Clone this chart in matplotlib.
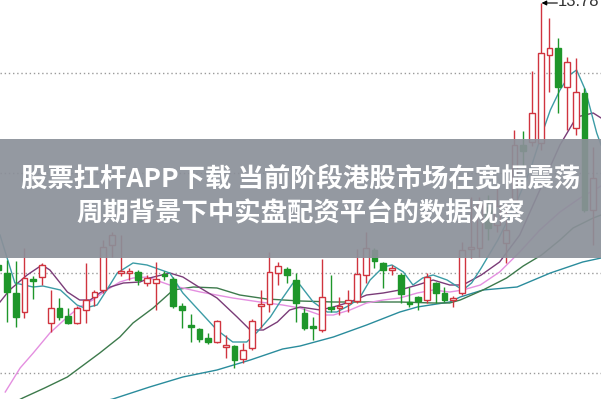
import matplotlib.pyplot as plt

# candle data (day index, open/high/low/close in price units)
days = list(range(-1, 68))
opens = [11.16, 11.08, 10.88, 10.69, 11.02, 11.04, 10.58, 10.73, 10.65, 10.58, 10.71,
         10.84, 10.91, 11.36, 11.08, 11.08, 11.09, 10.98, 10.98, 11.07, 11.02,
         10.75, 10.56, 10.52, 10.43, 10.39, 10.34, 10.35, 10.22, 10.33, 10.75,
         10.77, 11.08, 11.12, 11.01, 10.68, 10.55, 10.51, 10.74, 10.73, 10.78,
         10.80, 11.06, 11.31, 11.18, 11.11, 11.06, 10.79, 10.84, 10.81, 10.98,
         10.88, 10.81, 10.88, 11.32, 11.33, 11.74, 11.56, 11.38, 11.81, 12.36,
         12.39, 12.38, 13.26, 13.33, 12.94, 12.53, 12.88, 11.71]
highs = [11.19, 11.21, 11.20, 11.33, 11.05, 11.18, 10.91, 10.83, 10.73, 10.75, 11.18,
         10.91, 11.41, 11.49, 11.46, 11.13, 11.11, 11.06, 11.19, 11.10, 11.04,
         10.78, 10.67, 10.53, 10.48, 10.61, 10.46, 10.36, 10.38, 10.62, 10.91,
         11.29, 11.19, 11.14, 11.08, 10.73, 10.64, 11.22, 11.06, 10.84, 10.91,
         11.32, 11.49, 11.33, 11.19, 11.16, 11.08, 10.94, 10.85, 11.08, 10.99,
         10.94, 10.85, 11.39, 11.84, 11.84, 11.86, 11.93, 11.81, 12.51, 12.50,
         13.10, 13.78, 13.63, 13.43, 13.24, 13.23, 12.93, 12.34]
lows = [11.08, 10.59, 10.54, 10.63, 10.82, 10.96, 10.49, 10.61, 10.57, 10.57, 10.58,
        10.75, 10.88, 11.24, 11.05, 11.01, 10.96, 10.95, 10.71, 11.01, 10.73,
        10.53, 10.39, 10.39, 10.37, 10.38, 10.23, 10.13, 10.18, 10.31, 10.53,
        10.69, 10.96, 10.98, 10.59, 10.51, 10.41, 10.49, 10.69, 10.66, 10.69,
        10.78, 10.98, 11.13, 10.93, 11.06, 10.78, 10.74, 10.71, 10.78, 10.78,
        10.79, 10.74, 10.86, 11.23, 11.24, 11.41, 11.49, 11.18, 11.79, 12.14,
        12.35, 12.31, 12.89, 12.68, 12.51, 12.46, 11.69, 11.36]
closes = [11.11, 10.89, 10.64, 11.03, 11.00, 11.16, 10.73, 10.64, 10.58, 10.73, 10.81,
          10.89, 11.34, 11.46, 11.10, 11.10, 11.01, 11.03, 11.02, 11.05, 10.75,
          10.71, 10.54, 10.42, 10.39, 10.60, 10.36, 10.21, 10.31, 10.60, 10.77,
          11.09, 11.15, 11.06, 10.78, 10.53, 10.53, 10.84, 10.72, 10.75, 10.81,
          11.07, 11.33, 11.20, 11.11, 11.13, 10.87, 10.77, 10.80, 11.04, 10.88,
          10.81, 10.83, 11.31, 11.34, 11.78, 11.53, 11.75, 11.51, 12.36, 12.30,
          12.68, 13.28, 13.33, 12.94, 13.19, 12.89, 11.71, 12.03]

# moving averages (day position, value)
ma5_days = [-0.8, 0.9, 3.0, 4.1, 6.1, 8.0, 8.9, 10.3, 11.4, 12.6, 14.4, 16.0, 18.6, 20.1,
            22.1, 24.0, 25.8, 27.4, 28.6, 30.1, 31.5, 32.7, 33.5, 35.0, 36.6, 37.7, 39.2,
            40.3, 41.5, 43.0, 44.0, 45.3, 46.4, 47.5, 48.7, 50.3, 51.2, 52.1, 53.1, 54.2,
            56.1, 58.1, 59.8, 60.9, 62.1, 63.2, 64.3, 65.1, 66.1, 67.4, 67.9]
ma5_vals = [11.46, 10.98, 10.94, 10.95, 10.91, 10.76, 10.73, 10.76, 10.91, 11.08, 11.18,
            11.16, 11.08, 10.88, 10.69, 10.51, 10.39, 10.39, 10.49, 10.64, 10.83, 10.98,
            10.96, 10.79, 10.69, 10.69, 10.76, 10.83, 11.01, 11.14, 11.16, 11.09, 10.96,
            11.03, 11.06, 11.01, 10.96, 10.91, 10.98, 11.13, 11.41, 11.76, 12.11, 12.41,
            12.71, 12.91, 13.06, 13.11, 12.91, 12.48, 12.36]
ma10_days = [-0.8, 0.3, 2.3, 4.0, 4.9, 6.9, 8.3, 9.5, 10.6, 11.8, 13.3, 15.2, 16.3, 18.6,
             20.1, 22.1, 24.0, 26.3, 27.8, 29.3, 30.9, 32.3, 33.5, 35.8, 37.3, 39.2, 41.1,
             43.0, 44.9, 46.9, 48.7, 50.6, 52.1, 54.2, 56.3, 58.6, 60.9, 63.2, 65.1, 67.0, 67.9]
ma10_vals = [10.79, 10.91, 11.06, 11.16, 11.11, 10.89, 10.81, 10.81, 10.88, 10.94, 10.98,
             10.99, 11.03, 11.08, 11.04, 10.93, 10.83, 10.64, 10.51, 10.51, 10.59, 10.71,
             10.74, 10.71, 10.74, 10.79, 10.86, 10.88, 10.91, 10.96, 11.01, 10.96, 10.96,
             11.06, 11.19, 11.46, 11.91, 12.36, 12.64, 12.68, 12.63]
ma20_days = [-0.2, 1.5, 3.0, 4.9, 6.9, 8.3, 9.8, 11.4, 12.9, 14.4, 16.0, 18.6, 22.1, 25.8,
             28.9, 31.5, 33.5, 35.8, 37.3, 39.2, 41.1, 43.0, 44.9, 46.9, 48.7, 50.6, 52.1,
             54.1, 56.3, 58.6, 60.9, 63.2, 65.5, 67.9]
ma20_vals = [9.89, 10.13, 10.28, 10.48, 10.64, 10.74, 10.81, 10.91, 10.99, 11.03, 11.04,
             10.96, 10.89, 10.83, 10.79, 10.76, 10.73, 10.66, 10.66, 10.71, 10.78, 10.81,
             10.83, 10.88, 10.91, 10.89, 10.91, 10.96, 11.09, 11.29, 11.51, 11.69, 11.83, 11.95]
ma30_days = [0.9, 1.8, 4.3, 6.9, 10.6, 12.9, 14.4, 16.7, 19.0, 21.3, 24.0, 26.6, 29.7,
             33.5, 37.3, 41.1, 44.9, 48.7, 50.6, 51.8, 54.4, 57.1, 59.0, 61.1, 63.2, 64.7,
             67.0, 67.9]
ma30_vals = [9.79, 9.83, 9.93, 10.04, 10.28, 10.44, 10.58, 10.73, 10.91, 10.94, 10.93,
             10.86, 10.82, 10.80, 10.79, 10.79, 10.79, 10.78, 10.78, 10.81, 10.91, 11.03,
             11.15, 11.26, 11.41, 11.53, 11.63, 11.66]
ma60_days = [10.6, 12.1, 16.3, 20.1, 24.0, 27.8, 31.5, 33.5, 37.3, 41.1, 44.9, 46.9, 50.6,
             51.8, 54.4, 58.3, 62.1, 65.8, 67.9]
ma60_vals = [9.79, 9.82, 9.94, 10.04, 10.11, 10.21, 10.32, 10.35, 10.44, 10.56, 10.69,
             10.74, 10.79, 10.84, 10.91, 10.94, 11.08, 11.19, 11.23]

grid_levels = [13.08, 12.08, 11.08, 10.08]
peak_label = "13.78"
title_lines = ["股票扛杆APP下载 当前阶段港股市场在宽幅震荡", "周期背景下中实盘配资平台的数据观察"]

RED = '#d0343f'
GREEN = '#1e962a'

fig = plt.figure(figsize=(6.01, 3.99), dpi=100)
ax = fig.add_axes([0, 0, 1, 1])
ax.set_xlim(-0.8, 67.89)
ax.set_ylim(9.82, 13.81)
ax.axis('off')

for lvl in grid_levels:
    ax.axhline(lvl, color='#9a9a9a', lw=1, ls=(0, (1, 2)), zorder=1)

# moving averages
ax.plot(ma60_days, ma60_vals, color='#2a8c9c', lw=1, zorder=2)
ax.plot(ma30_days, ma30_vals, color='#3d7a4c', lw=1, zorder=2)
ax.plot(ma20_days, ma20_vals, color='#e48fe0', lw=1, zorder=2)
ax.plot(ma10_days, ma10_vals, color='#7a3c78', lw=1, zorder=2)
ax.plot(ma5_days, ma5_vals, color='#3c9ca6', lw=1, zorder=2)

# candles
for d, o, h, l, c in zip(days, opens, highs, lows, closes):
    up = c >= o
    col = RED if up else GREEN
    ax.vlines(d, l, h, color=col, lw=1, zorder=3)
    bottom = min(o, c)
    height = max(abs(c - o), 0.012)
    ax.bar(d, height, bottom=bottom, width=0.66,
           facecolor='white' if up else col, edgecolor=col, lw=1, zorder=4)

# peak marker
ax.annotate('', xy=(61.1, 13.78), xytext=(62.9, 13.78),
            arrowprops=dict(arrowstyle='-|>', color='black', lw=0.8,
                            mutation_scale=7, shrinkA=0, shrinkB=0), zorder=6)
ax.text(63.0, 13.80, peak_label, fontsize=12, family='Liberation Sans',
        color='#333333', va='center', ha='left', zorder=6)

# title banner
ax.axhspan(11.23, 12.42, color='#8b9099', alpha=0.92, lw=0, zorder=7)
fig.text(0.5, 1 - 179 / 399, title_lines[0], color='white', fontsize=19, fontweight='bold',
         family=['Noto Sans CJK SC', 'DejaVu Sans'], ha='center', va='center', zorder=8)
fig.text(0.5, 1 - 214 / 399, title_lines[1], color='white', fontsize=19, fontweight='bold',
         family=['Noto Sans CJK SC', 'DejaVu Sans'], ha='center', va='center', zorder=8)

fig.savefig('out.png', dpi=100)
